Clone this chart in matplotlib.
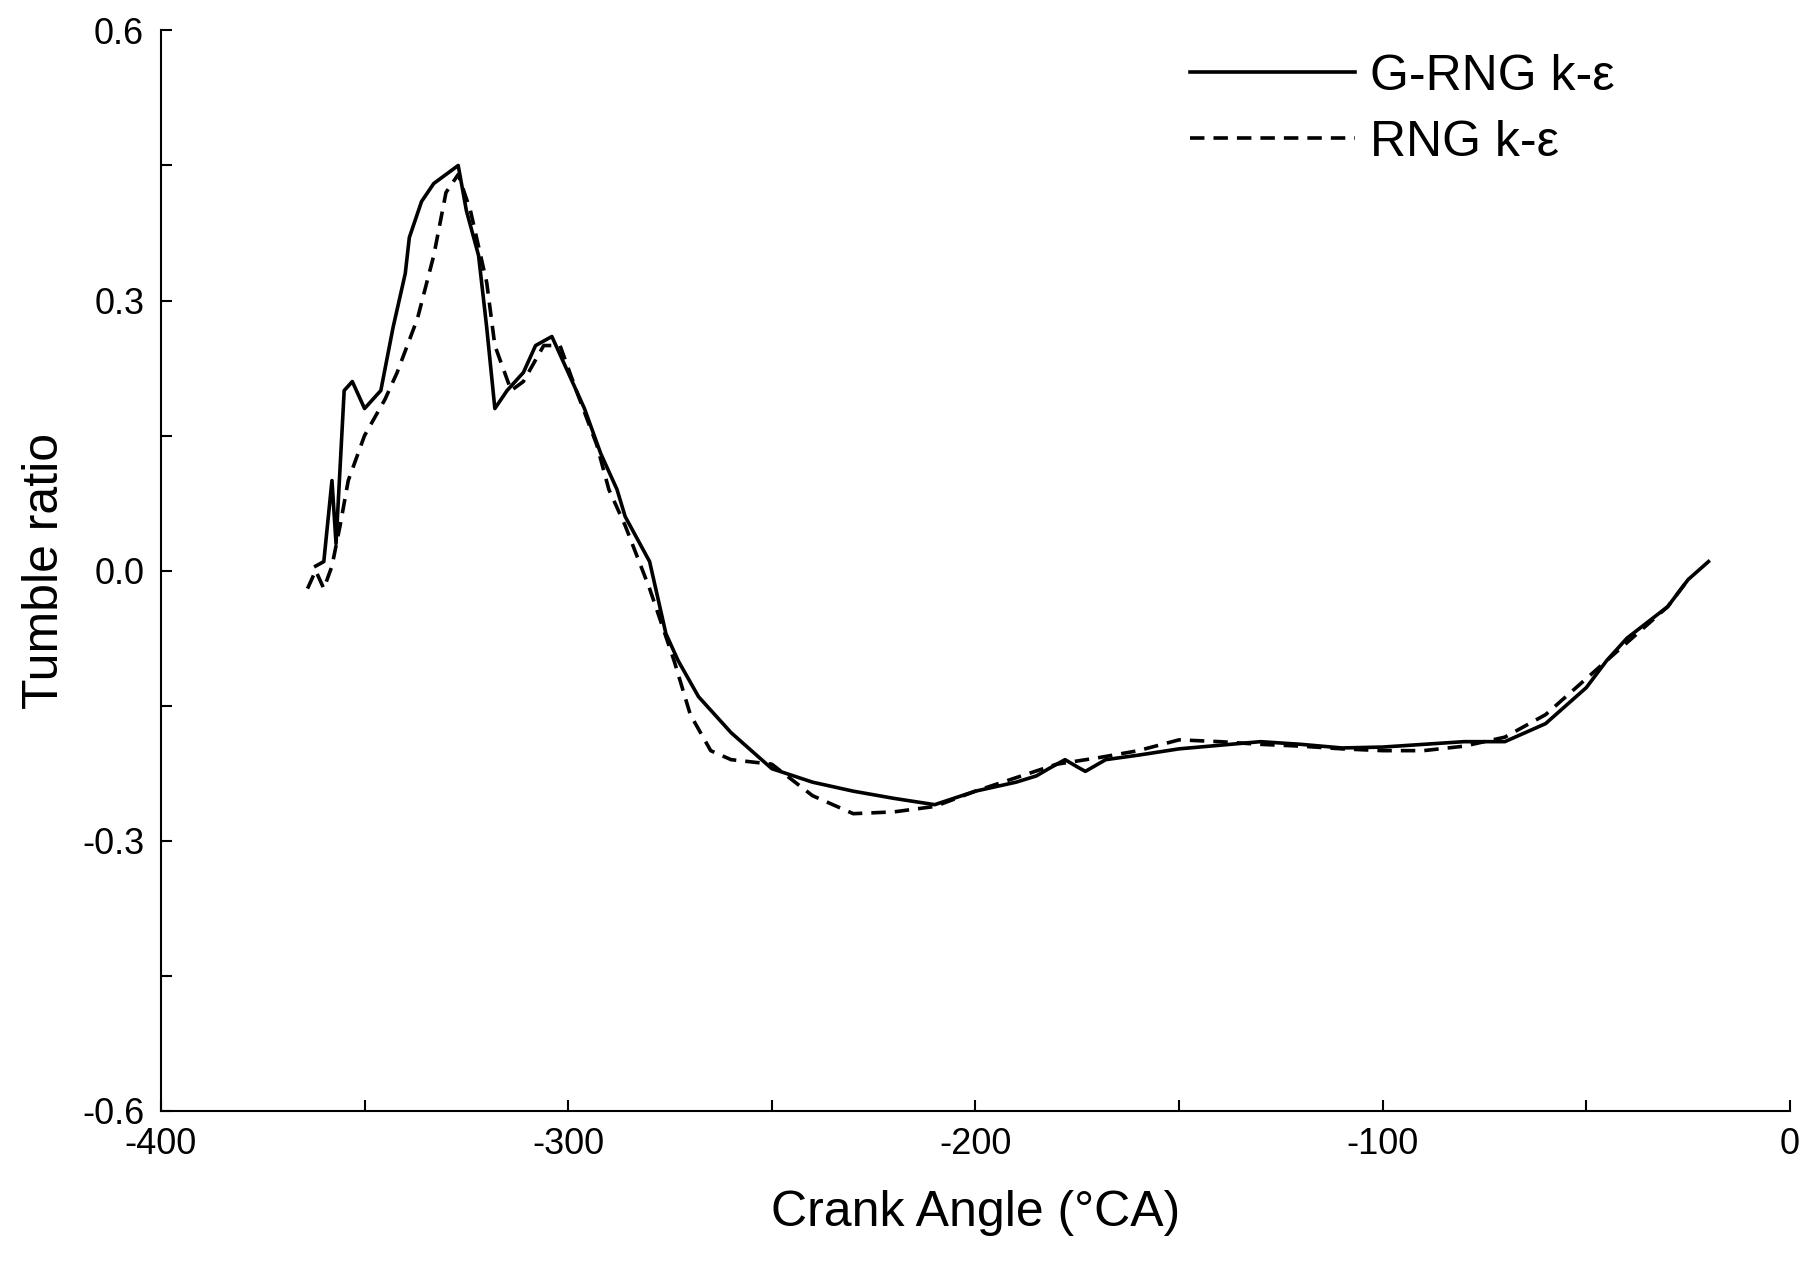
import matplotlib
matplotlib.use("Agg")
import matplotlib.pyplot as plt
from matplotlib.ticker import MultipleLocator

# G-RNG k-e (solid)
g_x = [-362, -360, -358, -357, -355, -353, -350, -346, -343, -340, -339, -336, -333, -327,
       -325, -322, -320, -318, -315, -311, -308, -304, -300, -296, -292, -288, -286, -280,
       -276, -273, -268, -260, -255, -250, -240, -230, -220, -210, -200, -190, -185, -182,
       -178, -175, -173, -168, -160, -150, -140, -130, -120, -110, -100, -90, -80, -70,
       -60, -50, -45, -40, -30, -25, -20]
g_y = [0.005, 0.01, 0.10, 0.03, 0.20, 0.21, 0.18, 0.20, 0.27, 0.33, 0.37, 0.41, 0.43, 0.45,
       0.40, 0.35, 0.27, 0.18, 0.20, 0.22, 0.25, 0.26, 0.22, 0.18, 0.13, 0.09, 0.06, 0.01,
       -0.07, -0.10, -0.14, -0.18, -0.20, -0.22, -0.235, -0.245, -0.253, -0.26, -0.245, -0.235,
       -0.228, -0.22, -0.21, -0.218, -0.223, -0.21, -0.205, -0.198, -0.194, -0.19, -0.193,
       -0.197, -0.196, -0.193, -0.19, -0.19, -0.17, -0.13, -0.10, -0.075, -0.04, -0.01, 0.01]

# RNG k-e (dashed)
r_x = [-364, -362, -360, -358, -356, -354, -350, -345, -342, -337, -333, -330, -327, -324,
       -320, -318, -314, -311, -306, -302, -298, -293, -290, -286, -280, -274, -270, -265,
       -260, -250, -240, -230, -220, -210, -200, -190, -180, -170, -160, -150, -140, -130,
       -120, -110, -100, -90, -80, -70, -60, -50, -40, -30, -25]
r_y = [-0.02, 0.0, -0.02, 0.005, 0.05, 0.10, 0.15, 0.19, 0.22, 0.28, 0.35, 0.42, 0.44, 0.40,
       0.32, 0.25, 0.20, 0.21, 0.25, 0.25, 0.20, 0.14, 0.09, 0.05, -0.02, -0.10, -0.16, -0.20,
       -0.21, -0.215, -0.25, -0.27, -0.268, -0.262, -0.245, -0.23, -0.215, -0.208, -0.20,
       -0.188, -0.19, -0.193, -0.195, -0.198, -0.20, -0.20, -0.195, -0.185, -0.16, -0.12,
       -0.08, -0.04, -0.01]

plt.rcParams['font.family'] = ['Liberation Sans', 'DejaVu Sans']
plt.rcParams['axes.unicode_minus'] = False

fig = plt.figure(figsize=(18.08, 12.68), dpi=100)
ax = fig.add_axes([0.089, 0.124, 0.901, 0.852])

ax.plot(g_x, g_y, color='black', lw=2.6, label='G-RNG k-ε')
ax.plot(r_x, r_y, color='black', lw=2.6, ls=(0, (4, 2.5)), label='RNG k-ε')

ax.set_xlim(-400, 0)
ax.set_ylim(-0.6, 0.6)
ax.xaxis.set_major_locator(MultipleLocator(100))
ax.xaxis.set_minor_locator(MultipleLocator(50))
ax.yaxis.set_major_locator(MultipleLocator(0.3))
ax.yaxis.set_minor_locator(MultipleLocator(0.15))
ax.yaxis.set_major_formatter(lambda v, p: f"{v:.1f}")
ax.tick_params(which='both', direction='in', length=8, width=1.5, labelsize=26, pad=12)
for s in ['top', 'right']:
    ax.spines[s].set_visible(False)
for s in ['left', 'bottom']:
    ax.spines[s].set_linewidth(1.5)

ax.set_xlabel('Crank Angle (°CA)', fontsize=36, labelpad=20)
ax.set_ylabel('Tumble ratio', fontsize=36, labelpad=10)

ax.legend(loc='upper right', fontsize=36, frameon=False, handlelength=3.3,
          handletextpad=0.3, labelspacing=0.4, bbox_to_anchor=(0.92, 1.02))

fig.savefig('out.png', dpi=100)
